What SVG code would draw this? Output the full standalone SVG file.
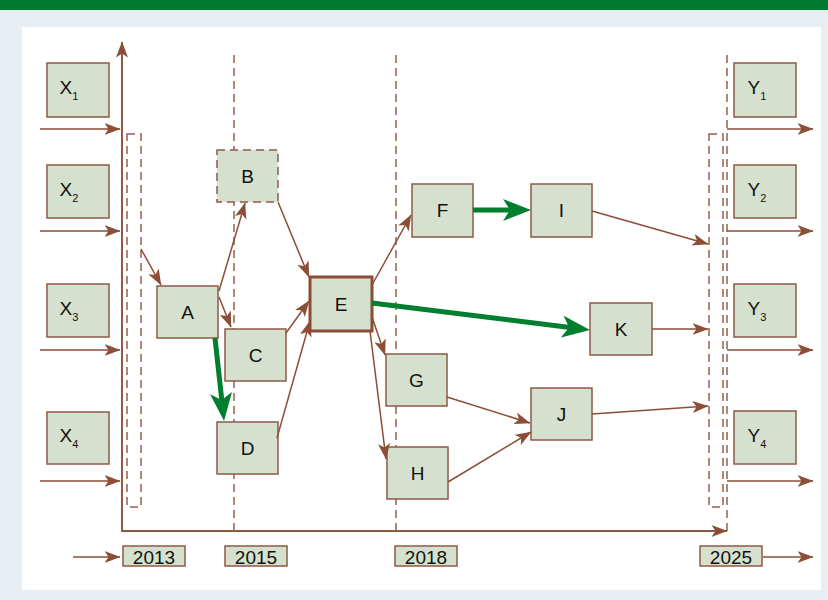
<svg xmlns="http://www.w3.org/2000/svg" width="828" height="600" viewBox="0 0 828 600">
<defs>
<style>
.bx{fill:#D5E1CE;stroke:#8E5A45;stroke-width:1.5}
.lb{font-family:"Liberation Sans",Arial,sans-serif;font-size:19px;fill:#111;text-anchor:middle}
.sb{font-size:11px}
.ln{stroke:#8C4E36;stroke-width:1.5;fill:none;marker-end:url(#ah)}
.gr{stroke:#007F2F;stroke-width:5;fill:none;marker-end:url(#gh)}
.ds{stroke:#94604C;stroke-width:1.5;stroke-dasharray:8,5;fill:none}
.ax{stroke:#8E5A45;stroke-width:2;fill:none}
</style>
<marker id="ah" markerUnits="userSpaceOnUse" markerWidth="16" markerHeight="12" refX="15.5" refY="6" orient="auto"><path d="M0,0 L16,6 L0,12 L4,6 z" fill="#8C4E36"/></marker>
<marker id="gh" markerUnits="userSpaceOnUse" markerWidth="28" markerHeight="22" refX="10" refY="11" orient="auto"><path d="M0,0 L28,11 L0,22 L7,11 z" fill="#007F2F"/></marker>
</defs>
<rect x="0" y="0" width="828" height="600" fill="#E8EDF1"/>
<rect x="0" y="0" width="828" height="10" fill="#007A2E"/>
<rect x="22" y="27" width="799" height="563" fill="#FFFFFF"/>

<g id="frame">
<line class="ds" x1="234" y1="55" x2="234" y2="531"/>
<line class="ds" x1="396" y1="55" x2="396" y2="531"/>
<line class="ds" x1="727" y1="55" x2="727" y2="531"/>
<rect class="ds" x="127" y="134" width="14" height="373"/>
<rect class="ds" x="709" y="134" width="14" height="373"/>
<line class="ax" x1="122" y1="531" x2="122" y2="42" marker-end="url(#ah)"/>
<line class="ax" x1="121" y1="531" x2="727" y2="531" marker-end="url(#ah)"/>
</g>

<g id="X1"><rect class="bx" x="47" y="63" width="62" height="54"/><text class="lb" x="69" y="94" text-anchor="start">X<tspan class="sb" dy="6">1</tspan></text></g>
<g id="X2"><rect class="bx" x="47" y="165" width="62" height="53"/><text class="lb" x="69" y="196" text-anchor="start">X<tspan class="sb" dy="6">2</tspan></text></g>
<g id="X3"><rect class="bx" x="47" y="284" width="62" height="53"/><text class="lb" x="69" y="315" text-anchor="start">X<tspan class="sb" dy="6">3</tspan></text></g>
<g id="X4"><rect class="bx" x="47" y="412" width="62" height="52"/><text class="lb" x="69" y="442" text-anchor="start">X<tspan class="sb" dy="6">4</tspan></text></g>

<g id="Y1"><rect class="bx" x="734" y="63" width="62" height="54"/><text class="lb" x="757" y="94" text-anchor="start">Y<tspan class="sb" dy="6">1</tspan></text></g>
<g id="Y2"><rect class="bx" x="734" y="165" width="62" height="53"/><text class="lb" x="757" y="196" text-anchor="start">Y<tspan class="sb" dy="6">2</tspan></text></g>
<g id="Y3"><rect class="bx" x="734" y="284" width="62" height="53"/><text class="lb" x="757" y="315" text-anchor="start">Y<tspan class="sb" dy="6">3</tspan></text></g>
<g id="Y4"><rect class="bx" x="734" y="411" width="62" height="53"/><text class="lb" x="757" y="442" text-anchor="start">Y<tspan class="sb" dy="6">4</tspan></text></g>

<g id="A"><rect class="bx" x="157" y="286" width="61" height="52"/><text class="lb" x="187.5" y="319">A</text></g>
<g id="B"><rect class="bx" x="217" y="150" width="61" height="52" stroke-dasharray="8,5"/><text class="lb" x="247.5" y="183">B</text></g>
<g id="C"><rect class="bx" x="225" y="329" width="61" height="52"/><text class="lb" x="255.5" y="362">C</text></g>
<g id="D"><rect class="bx" x="217" y="422" width="61" height="52"/><text class="lb" x="247.5" y="455">D</text></g>
<g id="E"><rect class="bx" x="310" y="277" width="62" height="54" style="stroke:#8B4B35;stroke-width:3"/><text class="lb" x="341" y="311">E</text></g>
<g id="F"><rect class="bx" x="412" y="184" width="61" height="53"/><text class="lb" x="442.5" y="217">F</text></g>
<g id="I"><rect class="bx" x="531" y="184" width="61" height="53"/><text class="lb" x="561.5" y="217">I</text></g>
<g id="K"><rect class="bx" x="590" y="303" width="62" height="52"/><text class="lb" x="621" y="336">K</text></g>
<g id="G"><rect class="bx" x="386" y="354" width="61" height="52"/><text class="lb" x="416.5" y="387">G</text></g>
<g id="H"><rect class="bx" x="387" y="447" width="61" height="52"/><text class="lb" x="417.5" y="480">H</text></g>
<g id="J"><rect class="bx" x="531" y="388" width="61" height="52"/><text class="lb" x="561.5" y="421">J</text></g>

<g id="y2013"><rect class="bx" x="123" y="546" width="62" height="20"/><text class="lb" x="154" y="564">2013</text></g>
<g id="y2015"><rect class="bx" x="225" y="546" width="62" height="20"/><text class="lb" x="256" y="564">2015</text></g>
<g id="y2018"><rect class="bx" x="395" y="546" width="62" height="20"/><text class="lb" x="426" y="564">2018</text></g>
<g id="y2025"><rect class="bx" x="700" y="546" width="62" height="20"/><text class="lb" x="731" y="564">2025</text></g>

<g id="connectors">
<line class="ln" x1="40" y1="129" x2="120" y2="129"/>
<line class="ln" x1="40" y1="231" x2="120" y2="231"/>
<line class="ln" x1="40" y1="350" x2="120" y2="350"/>
<line class="ln" x1="40" y1="481" x2="120" y2="481"/>
<line class="ln" x1="73" y1="557" x2="120" y2="557"/>
<line class="ln" x1="727" y1="129" x2="813" y2="129"/>
<line class="ln" x1="727" y1="231" x2="813" y2="231"/>
<line class="ln" x1="727" y1="350" x2="813" y2="350"/>
<line class="ln" x1="727" y1="481" x2="813" y2="481"/>
<line class="ln" x1="763" y1="557" x2="813" y2="557"/>
<line class="ln" x1="141" y1="249" x2="161" y2="285"/>
<line class="ln" x1="219" y1="291" x2="245" y2="203"/>
<line class="ln" x1="219" y1="297" x2="231" y2="327"/>
<line class="ln" x1="278" y1="202" x2="309" y2="277"/>
<line class="ln" x1="286" y1="333" x2="309" y2="301"/>
<line class="ln" x1="277" y1="438" x2="310" y2="321"/>
<line class="ln" x1="372" y1="285" x2="411" y2="215"/>
<line class="ln" x1="372" y1="317" x2="385" y2="355"/>
<line class="ln" x1="370" y1="331" x2="386" y2="459"/>
<line class="ln" x1="592" y1="211" x2="708" y2="244"/>
<line class="ln" x1="652" y1="329" x2="708" y2="329"/>
<line class="ln" x1="447" y1="397" x2="530" y2="423"/>
<line class="ln" x1="448" y1="482" x2="531" y2="432"/>
<line class="ln" x1="592" y1="414" x2="708" y2="406"/>
<line class="gr" x1="215" y1="338" x2="222.1" y2="403.1"/>
<line class="gr" x1="473" y1="210" x2="513" y2="210"/>
<line class="gr" x1="372" y1="303" x2="572.1" y2="327.8"/>
</g>
</svg>
